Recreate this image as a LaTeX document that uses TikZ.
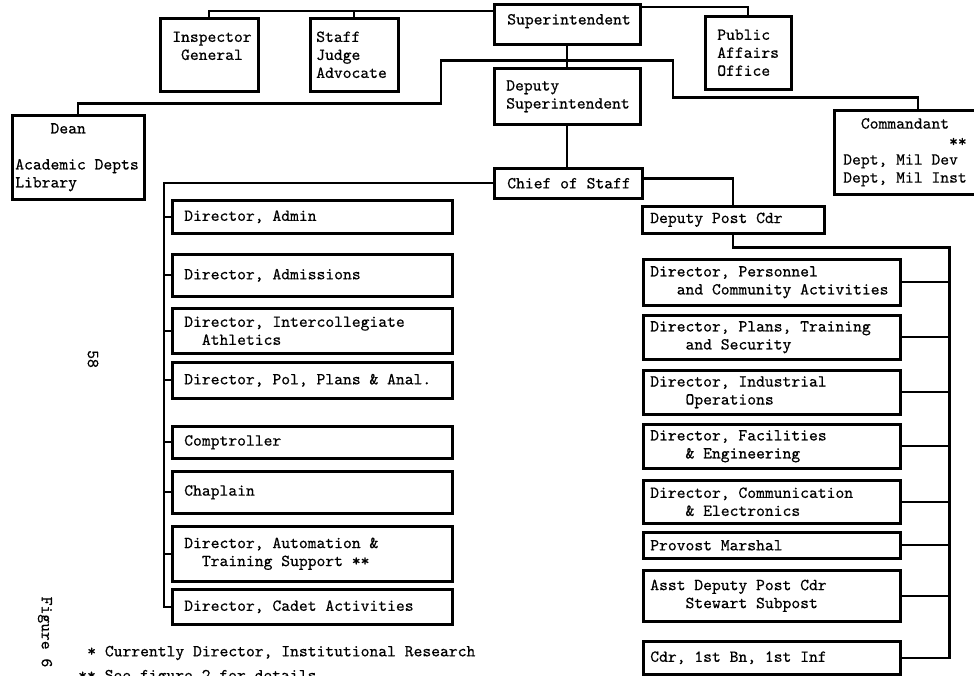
\documentclass[tikz,border=0pt]{standalone}
\usepackage{fontspec}
\newfontfamily\typer[FakeBold=0.5]{lmmono10-regular.otf}
\usetikzlibrary{calc}

\tikzset{
	unit/.style={draw, line width=1.9pt, inner sep=0pt},
	unittext/.style={align=left, inner sep=0pt, font=\typer\fontsize{12.6}{13.5}\selectfont},
	link/.style={line width=1.7pt},
	note/.style={inner sep=0pt, font=\typer\fontsize{12.6}{13.5}\selectfont},
}

% box from (x1,y1) to (x2,y2) in pixels, text set in from the left edge
\newcommand{\unitbox}[7][13]{%
	\pgfmathsetmacro{\ubw}{(#5-#3)*0.75}%
	\pgfmathsetmacro{\ubh}{(#6-#4)*0.75}%
	\pgfmathsetmacro{\ubp}{#1*0.75}%
	\node[unit, anchor=north west, minimum width=\ubw pt, minimum height=\ubh pt] (#2) at (#3,#4) {};%
	\node[unittext, anchor=west] (#2-txt) at ([xshift=\ubp pt]#2.west) {#7};%
}

\begin{document}
\begin{tikzpicture}[x=0.75pt, y=-0.75pt]
	\useasboundingbox (0,0) rectangle (974,675);

	% Top of the chart
	\unitbox[14]{supt}{493}{3}{639}{43}{Superintendent\\[-6pt]~}
	\unitbox{ig}{159}{17}{257}{90}{Inspector\\~General\\~}
	\unitbox[7]{sja}{309}{17}{397}{90}{Staff\\Judge\\Advocate}
	\unitbox{pao}{704}{15}{790}{88}{Public\\Affairs\\Office}
	\unitbox{dsupt}{493}{67}{639}{123}{Deputy\\Superintendent}
	\unitbox[4]{dean}{11}{114}{143}{198}{~~~~Dean\\[13.5pt]Academic Depts\\Library}
	\unitbox[10]{comm}{833}{109}{1001}{193}{~~Commandant\\~~~~~~~~~~~~**\\Dept, Mil Dev\\Dept, Mil Inst}
	\unitbox[14]{cos}{493}{167}{641}{197}{Chief of Staff}
	\unitbox[9]{dpc}{641}{205}{823}{232}{Deputy Post Cdr}

	% Staff directors (left)
	\unitbox{adm}{171}{199}{451}{232}{Director, Admin}
	\unitbox{admis}{171}{253}{451}{295}{Director, Admissions}
	\unitbox{athl}{171}{307}{451}{352}{Director, Intercollegiate\\~~Athletics}
	\unitbox{pol}{171}{361}{451}{397}{Director, Pol, Plans \& Anal.}
	\unitbox{compt}{171}{425}{451}{457}{Comptroller}
	\unitbox{chap}{171}{470}{451}{512}{Chaplain}
	\unitbox{auto}{171}{525}{451}{580}{Director, Automation \&\\~~Training Support **}
	\unitbox{cadet}{171}{588}{451}{623}{Director, Cadet Activities}

	% Post directors (right)
	\unitbox[8]{pers}{642}{258}{899}{304}{Director, Personnel\\~~~and Community Activities}
	\unitbox[8]{plans}{642}{314}{899}{358}{Director, Plans, Training\\~~~~and Security}
	\unitbox[8]{indus}{642}{369}{899}{413}{Director, Industrial\\~~~~Operations}
	\unitbox[8]{facil}{642}{423}{899}{467}{Director, Facilities\\~~~~\& Engineering}
	\unitbox[8]{commel}{642}{479}{899}{522}{Director, Communication\\~~~~\& Electronics}
	\unitbox[8]{pm}{642}{531}{899}{557}{Provost Marshal}
	\unitbox[8]{asst}{642}{569}{899}{620}{Asst Deputy Post Cdr\\~~~~Stewart Subpost}
	\unitbox[8]{bn}{642}{640}{899}{673}{Cdr, 1st Bn, 1st Inf}

	% Lines, top row
	\draw[link] (ig.north) |- ([yshift=-6pt]supt.north west);
	\draw[link] (sja.north) -- ++(0,-6);
	\draw[link] ([yshift=-3pt]supt.north east) -| (pao.north);
	\draw[link] (supt.south) -- (dsupt.north);

	% Dean and Commandant
	\coordinate (split) at ($(supt.south)!0.7!(dsupt.north)$);
	\draw[link] (split) -| ++(-126,43) -| (dean.north);
	\draw[link] (split) -| ++(106,37) -| (comm.north);

	% Chief of Staff
	\draw[link] (dsupt.south) -- (dsupt.south |- cos.north);
	\draw[link] ([yshift=3.5pt]cos.east) -| (dpc.north);

	% Left bus
	\coordinate (lbus) at ([xshift=-5pt]cadet.west);
	\draw[link] (cos.west) -| (lbus) -- (cadet.west);
	\foreach \u in {adm,admis,athl,pol,compt,chap,auto}
		\draw[link] (\u.west) -- (\u.west -| lbus);

	% Right bus
	\coordinate (rbus) at ([xshift=36pt]bn.east);
	\draw[link] (dpc.south) -- ++(0,13) -| (rbus) -- (bn.east);
	\foreach \u in {pers,plans,indus,facil,commel,pm,asst}
		\draw[link] (\u.east) -- (\u.east -| rbus);

	% Notes and page marks
	\node[note, anchor=west] (fn1) at (87,653) {* Currently Director, Institutional Research};
	\node[note, anchor=west] (fn2) at (78,677) {** See figure 2 for details};
	\node[note, rotate=-90] (page) at (93,359) {58};
	\node[note, rotate=-90] (fig) at (45,632) {Figure 6};

\end{tikzpicture}
\end{document}
